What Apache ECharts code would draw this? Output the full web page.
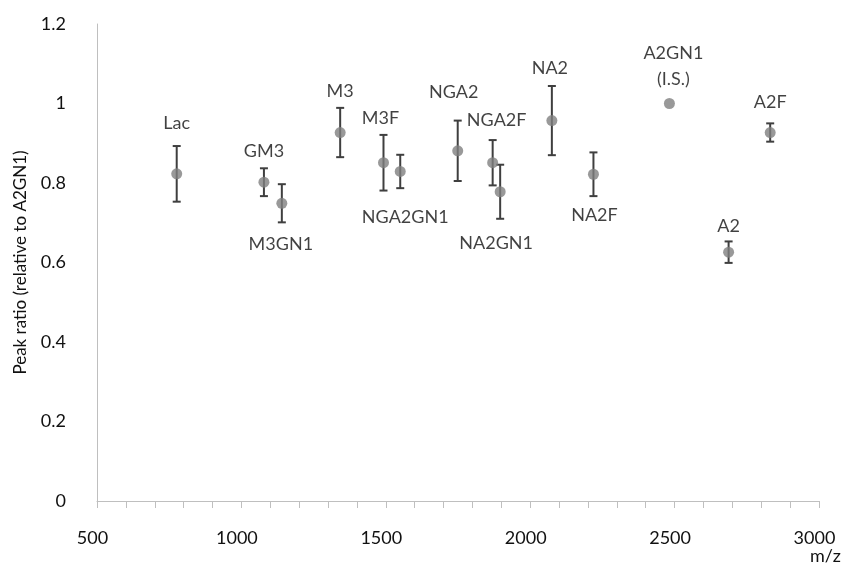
<!DOCTYPE html>
<html>
<head>
<meta charset="utf-8">
<script src="https://cdn.jsdelivr.net/npm/echarts@6/dist/echarts.min.js"></script>
<style>
  html, body { margin: 0; padding: 0; background: #fff; }
  #main { width: 847px; height: 566px; }
</style>
</head>
<body>
<div id="main"></div>
<script>
// glycan peaks
var names = ['Lac', 'GM3', 'M3GN1', 'M3', 'M3F', 'NGA2GN1', 'NGA2', 'NGA2F', 'NA2GN1', 'NA2', 'NA2F', 'A2GN1\n(I.S.)', 'A2', 'A2F'];
var mz = [776, 1078, 1140, 1342, 1492, 1550, 1749, 1870, 1896, 2075, 2219, 2482, 2687, 2831];
var ratio = [0.823, 0.802, 0.749, 0.927, 0.851, 0.829, 0.881, 0.851, 0.778, 0.957, 0.822, 1.0, 0.626, 0.927];
var err = [0.07, 0.035, 0.048, 0.062, 0.07, 0.042, 0.076, 0.057, 0.068, 0.087, 0.055, 0, 0.027, 0.023];
var yTicks = [0, 0.2, 0.4, 0.6, 0.8, 1, 1.2];

// where each name sits relative to its point (px)
var labelOffsets = [[0, -51], [0, -31], [-1, 41], [0, -41], [-3, -45], [5, 46], [-4, -59], [4, -43], [-4, 51], [-2, -52], [1, 41], [4, -37], [0, -26], [0, -30]];

var FONT = 'Lato';
var chart = echarts.init(document.getElementById('main'));

var points = mz.map(function (m, i) {
  return {
    value: [m, ratio[i]],
    label: { show: true, formatter: names[i], position: 'inside', offset: labelOffsets[i] }
  };
});
var bars = mz.map(function (m, i) { return [m, ratio[i], err[i]]; });

var option = {
  backgroundColor: '#fff',
  animation: false,
  grid: { left: 97, right: 28, top: 24, bottom: 65 },
  xAxis: {
    type: 'value',
    min: 500, max: 3000, interval: 500,
    axisLine: { show: true, lineStyle: { color: '#bfbfbf', width: 1 } },
    axisTick: { show: true, length: 7, lineStyle: { color: '#bfbfbf' } },
    minorTick: { show: true, splitNumber: 5, length: 7, lineStyle: { color: '#bfbfbf' } },
    splitLine: { show: false },
    axisLabel: {
      color: '#111', fontSize: 18, fontFamily: FONT, margin: 28, padding: [0, 9, 0, 0],
      formatter: function (v) { return String(v); }
    }
  },
  yAxis: {
    type: 'value',
    min: 0, max: 1.2, interval: 0.2,
    name: 'Peak ratio (relative to A2GN1)',
    nameLocation: 'middle',
    nameGap: 68,
    nameTextStyle: { color: '#111', fontSize: 17, fontFamily: FONT },
    axisLine: { show: true, lineStyle: { color: '#bfbfbf', width: 1 } },
    axisTick: { show: false },
    splitLine: { show: false },
    axisLabel: {
      color: '#111', fontSize: 18, fontFamily: FONT, margin: 31,
      formatter: function (v) {
        var t = yTicks.filter(function (k) { return Math.abs(k - v) < 1e-6; });
        return t.length ? String(t[0]) : '';
      }
    }
  },
  graphic: [{
    type: 'text', left: 810, top: 547,
    style: { text: 'm/z', fill: '#111', font: '18px Lato' }
  }],
  series: [
    {
      type: 'custom',
      z: 2,
      data: bars,
      renderItem: function (params, api) {
        var x = api.value(0), y = api.value(1), e = api.value(2);
        if (!e) return;
        var top = api.coord([x, y + e]);
        var bot = api.coord([x, y - e]);
        var s = { stroke: '#3f3f3f', lineWidth: 2 };
        var w = 4;
        return {
          type: 'group',
          children: [
            { type: 'line', shape: { x1: top[0], y1: top[1], x2: bot[0], y2: bot[1] }, style: s },
            { type: 'line', shape: { x1: top[0] - w, y1: top[1], x2: top[0] + w, y2: top[1] }, style: s },
            { type: 'line', shape: { x1: bot[0] - w, y1: bot[1], x2: bot[0] + w, y2: bot[1] }, style: s }
          ]
        };
      }
    },
    {
      type: 'scatter',
      z: 3,
      symbol: 'circle',
      symbolSize: 11,
      itemStyle: { color: '#808080' },
      label: { color: '#111', fontSize: 18, fontFamily: FONT, lineHeight: 26, align: 'center', verticalAlign: 'middle' },
      data: points
    }
  ]
};

chart.setOption(option);
</script>
</body>
</html>
